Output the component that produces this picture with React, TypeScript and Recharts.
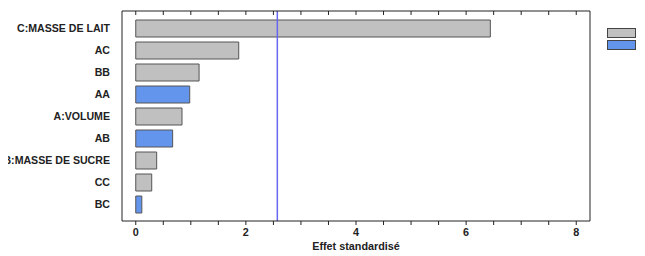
// Pareto chart of standardized effects

import { BarChart, Bar, Cell, XAxis, YAxis, ReferenceLine } from "recharts";

const factors = [
  "C:MASSE DE LAIT",
  "AC",
  "BB",
  "AA",
  "A:VOLUME",
  "AB",
  "B:MASSE DE SUCRE",
  "CC",
  "BC",
];
const effects = [6.44, 1.87, 1.15, 0.98, 0.84, 0.67, 0.38, 0.29, 0.11];
const signs = ["+", "+", "+", "-", "+", "-", "+", "+", "-"];
const xTicks = [0, 0.5, 1, 1.5, 2, 2.5, 3, 3.5, 4, 4.5, 5, 5.5, 6, 6.5, 7, 7.5, 8];
const criticalValue = 2.571;

const POS = "#c0c0c0";
const NEG = "#6495ed";
const FONT = "'Liberation Sans', Arial, sans-serif";

const data = factors.map((name, i) => ({ name, effect: effects[i], sign: signs[i] }));

// plain one-line label, no wrapping
function FactorTick(props: any) {
  const { x, y, payload } = props;
  return (
    <text
      x={x}
      y={y}
      dy="0.35em"
      textAnchor="end"
      fill="#222"
      fontSize={10.6}
      fontWeight="bold"
      fontFamily={FONT}
    >
      {payload.value}
    </text>
  );
}

function LegendBox() {
  const items = [
    { label: "+", color: POS },
    { label: "-", color: NEG },
  ];
  return (
    <div style={{ position: "absolute", left: 607, top: 27 }}>
      {items.map((it) => (
        <div key={it.label} style={{ display: "flex", alignItems: "center", height: 12 }}>
          <span
            style={{
              display: "inline-block",
              width: 27,
              height: 8,
              background: it.color,
              border: "1px solid #444",
            }}
          />
          <span style={{ marginLeft: 8, fontFamily: FONT, fontSize: 11, fontWeight: "bold", lineHeight: "12px" }}>
            {it.label}
          </span>
        </div>
      ))}
    </div>
  );
}

export default function App() {
  return (
    <div style={{ position: "relative", margin: "-8px 0 0 -8px", width: 645, height: 256, overflow: "hidden" }}>
      <BarChart
        width={645}
        height={256}
        data={data}
        layout="vertical"
        margin={{ top: 11, right: 54, bottom: 0, left: 0 }}
      >
        <XAxis
          type="number"
          domain={[-0.25, 8.25]}
          ticks={xTicks}
          allowDataOverflow
          height={35}
          stroke="#222"
          tickSize={4}
          tickMargin={3}
          tickFormatter={(v: number) => (v % 2 === 0 ? String(v) : "")}
          tick={{ fill: "#222", fontSize: 10.8, fontWeight: "bold", fontFamily: FONT }}
          label={{
            value: "Effet standardisé",
            position: "insideBottom",
            offset: 6,
            style: { fill: "#222", fontSize: 10.8, fontWeight: "bold", fontFamily: FONT },
          }}
        />
        <XAxis
          xAxisId="top"
          type="number"
          orientation="top"
          mirror
          domain={[-0.25, 8.25]}
          ticks={xTicks}
          allowDataOverflow
          height={1}
          stroke="#222"
          tickSize={4}
          tickFormatter={() => ""}
        />
        <YAxis
          type="category"
          dataKey="name"
          width={122}
          stroke="#222"
          tickLine={false}
          tickSize={6}
          tickMargin={6}
          padding={{ top: 6, bottom: 6 }}
          interval={0}
          tick={<FactorTick />}
        />
        <YAxis
          yAxisId="right"
          type="category"
          dataKey="name"
          orientation="right"
          width={1}
          stroke="#222"
          tick={false}
          tickLine={false}
          padding={{ top: 6, bottom: 6 }}
        />
        <Bar dataKey="effect" barSize={17} stroke="#555" strokeWidth={1} isAnimationActive={false}>
          {data.map((d) => (
            <Cell key={d.name} fill={d.sign === "+" ? POS : NEG} />
          ))}
        </Bar>
        <ReferenceLine x={criticalValue} stroke="#6666ee" strokeWidth={1.5} />
      </BarChart>
      <LegendBox />
    </div>
  );
}
